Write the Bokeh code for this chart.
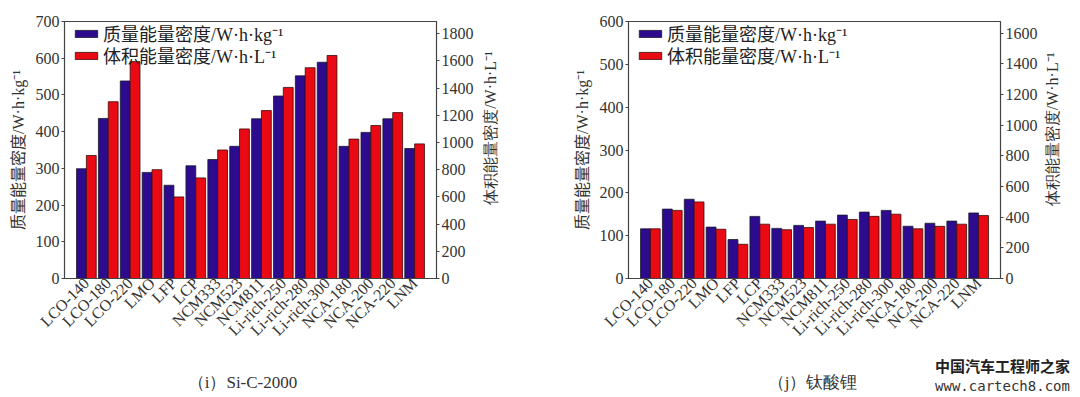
from bokeh.plotting import figure
from bokeh.models import Range1d, LinearAxis, FactorRange, FixedTicker, Legend, LegendItem
from bokeh.transform import dodge
from bokeh.layouts import row, column
from bokeh.embed import file_html
from bokeh.resources import INLINE
from bokeh.core.properties import value
from math import pi

categories = ["LCO-140", "LCO-180", "LCO-220", "LMO", "LFP", "LCP", "NCM333", "NCM523",
              "NCM811", "Li-rich-250", "Li-rich-280", "Li-rich-300", "NCA-180", "NCA-200",
              "NCA-220", "LNM"]

# (i) Si-C-2000
sic_mass = [299, 436, 538, 289, 254, 307, 324, 360, 435, 497, 552, 589, 360, 398, 435, 354]
sic_volume = [905, 1300, 1595, 800, 600, 740, 945, 1100, 1235, 1405, 1550, 1640, 1025, 1125, 1220, 990]
sic_left_ticks = [0, 100, 200, 300, 400, 500, 600, 700]
sic_right_ticks = [0, 200, 400, 600, 800, 1000, 1200, 1400, 1600, 1800]

# (j) 钛酸锂
lto_mass = [116, 162, 185, 120, 91, 145, 117, 124, 134, 148, 155, 159, 122, 129, 134, 153]
lto_volume = [324, 444, 499, 321, 223, 354, 318, 332, 354, 385, 405, 419, 324, 340, 354, 410]
lto_left_ticks = [0, 100, 200, 300, 400, 500, 600]
lto_right_ticks = [0, 200, 400, 600, 800, 1000, 1200, 1400, 1600]

mass_label = "质量能量密度/W·h·kg⁻¹"
vol_label = "体积能量密度/W·h·L⁻¹"
captions = ["（i）Si-C-2000", "（j）钛酸锂"]
watermark = ["中国汽车工程师之家", "www.cartech8.com"]

BLUE = "#2c0b8e"
RED = "#ea0a14"
SERIF = "'Liberation Serif', 'Noto Sans CJK SC'"
H = 350


def style_axis(ax):
    ax.major_label_text_font = SERIF
    ax.major_label_text_font_size = "16px"
    ax.major_label_text_color = "#333333"
    ax.axis_line_color = "#444444"
    ax.major_tick_line_color = "#444444"
    ax.major_tick_out = 3
    ax.major_tick_in = 0
    ax.minor_tick_out = 0
    ax.minor_tick_in = 0
    ax.major_label_standoff = 2


def make_legend(item, y):
    return Legend(items=[item], location=(8, y), background_fill_alpha=0,
                  border_line_alpha=0, label_text_font=SERIF, label_text_font_size="18px",
                  label_text_color="#222222", glyph_width=28, glyph_height=9,
                  label_height=18, spacing=0, padding=0, margin=0, label_standoff=3)


def blank(width, height):
    f = figure(width=width, height=height, x_range=Range1d(0, width), y_range=Range1d(0, height),
               output_backend="svg", toolbar_location=None,
               min_border_left=0, min_border_right=0, min_border_top=0, min_border_bottom=0)
    f.axis.visible = False
    f.grid.visible = False
    f.outline_line_color = None
    return f


def make_chart(mass, vol, ymax, y2max, lticks, rticks, bl, br, width):
    xr = FactorRange(factors=categories, range_padding=1 / 16)
    p = figure(x_range=xr, y_range=Range1d(0, ymax), width=width, height=H,
               output_backend="svg", toolbar_location=None,
               min_border_left=bl, min_border_right=br, min_border_top=21, min_border_bottom=72)
    p.extra_y_ranges = {"vol": Range1d(0, y2max)}
    src = {"cat": categories, "mass": mass, "vol": vol}
    r1 = p.vbar(x=dodge("cat", -0.225, range=xr), top="mass", width=0.45, source=src,
                fill_color=BLUE, line_color="#1a1a2a", line_width=0.8)
    r2 = p.vbar(x=dodge("cat", 0.225, range=xr), top="vol", width=0.45, source=src,
                y_range_name="vol", fill_color=RED, line_color="#3a0a0a", line_width=0.8)

    p.xgrid.visible = False
    p.ygrid.visible = False
    p.outline_line_color = "#444444"
    p.outline_line_width = 1.2

    style_axis(p.xaxis[0])
    p.xaxis.major_label_orientation = pi / 4
    p.xaxis.major_tick_out = 0
    p.xaxis.major_label_text_font_size = "16px"
    p.xaxis.major_label_standoff = 2

    ya = p.yaxis[0]
    style_axis(ya)
    ya.ticker = FixedTicker(ticks=lticks)
    ya.axis_label = mass_label
    ya.axis_label_text_font = SERIF
    ya.axis_label_text_font_size = "16px"
    ya.axis_label_text_font_style = "normal"
    ya.axis_label_text_color = "#333333"
    ya.axis_label_standoff = 6

    ax2 = LinearAxis(y_range_name="vol", ticker=FixedTicker(ticks=rticks))
    style_axis(ax2)
    p.add_layout(ax2, "right")

    p.add_layout(make_legend(LegendItem(label=mass_label, renderers=[r1]), 232))
    p.add_layout(make_legend(LegendItem(label=vol_label, renderers=[r2]), 210))
    return p


def side_title(width, x, y_from_top):
    t = blank(width, H)
    t.text(x=[x], y=[H - y_from_top], text=[vol_label], angle=pi / 2, text_align="center",
           text_baseline="middle", text_font=value("Liberation Serif"),
           text_font_size="16px", text_color="#333333")
    return t


p1 = make_chart(sic_mass, sic_volume, 700, 1890, sic_left_ticks, sic_right_ticks, 64, 40, 476)
t1 = side_title(64, 14, 145)
p2 = make_chart(lto_mass, lto_volume, 600, 1675, lto_left_ticks, lto_right_ticks, 88, 40, 500)
t2 = side_title(40, 12, 147)

# caption strip below the two charts
cap = blank(1080, 47)
cap.text(x=[242, 812], y=[15, 15], text=captions, text_align="center",
         text_baseline="middle", text_font=value("Liberation Serif"), text_font_size="17px",
         text_color="#333333")
cap.text(x=[1002], y=[32], text=[watermark[0]], text_align="center", text_baseline="middle",
         text_font=value("Noto Sans CJK SC"), text_font_style="bold",
         text_font_size="15px", text_color="#222222")
cap.text(x=[1002], y=[12], text=[watermark[1]], text_align="center", text_baseline="middle",
         text_font=value("DejaVu Sans Mono"), text_font_size="14px", text_color="#333333")

layout = column(row(p1, t1, p2, t2, spacing=0), cap, spacing=0)
open("out.html", "w").write(file_html(layout, INLINE))
